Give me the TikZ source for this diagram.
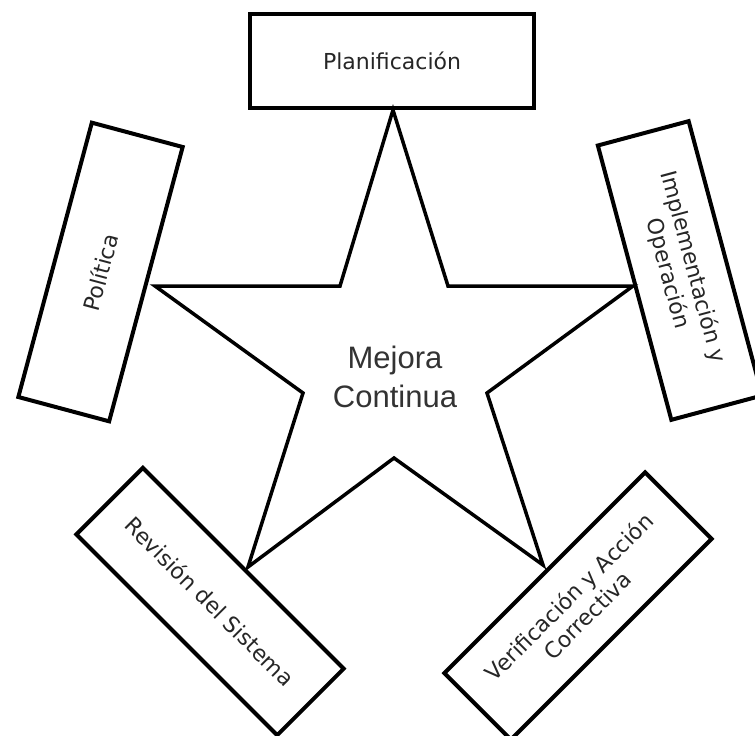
\documentclass[tikz,border=0pt]{standalone}
\usepackage{fontspec}
\setmainfont{DejaVu Sans}
\newfontfamily\centrofont{Liberation Sans}
\tikzset{
  etapa/.style={draw, line width=4pt, minimum width=284pt, minimum height=94pt,
    inner sep=0pt, align=center, text=black!85, font=\fontsize{22}{26}\selectfont},
  centro/.style={text=black!80, align=center, font=\centrofont\fontsize{31}{39}\selectfont},
}
\begin{document}
\begin{tikzpicture}[x=1pt, y=-1pt]
\useasboundingbox[fill=white] (0,0) rectangle (755,736);
% etapas
\node[etapa] (plan) at (392,60.5) {Planificación};
\node[etapa, rotate=75] (pol) at (100.5,272) {Política};
\node[etapa, rotate=-75] (impl) at (680,270.5) {Implementación y\\Operación};
\node[etapa, rotate=-45] (rev) at (210,601.5) {Revisión del Sistema};
\node[etapa, rotate=45] (ver) at (578,606) {Verificación y Acción\\Correctiva};
% estrella
\draw[line width=3.5pt] (393,110) -- (448,286) -- (633,286) -- (487,393) -- (543,565)
  -- (394,458) -- (248,567) -- (303,393) -- (155,286) -- (340,286) -- cycle;
\node[centro] (mejora) at (395,377) {Mejora\\Continua};
\end{tikzpicture}
\end{document}
